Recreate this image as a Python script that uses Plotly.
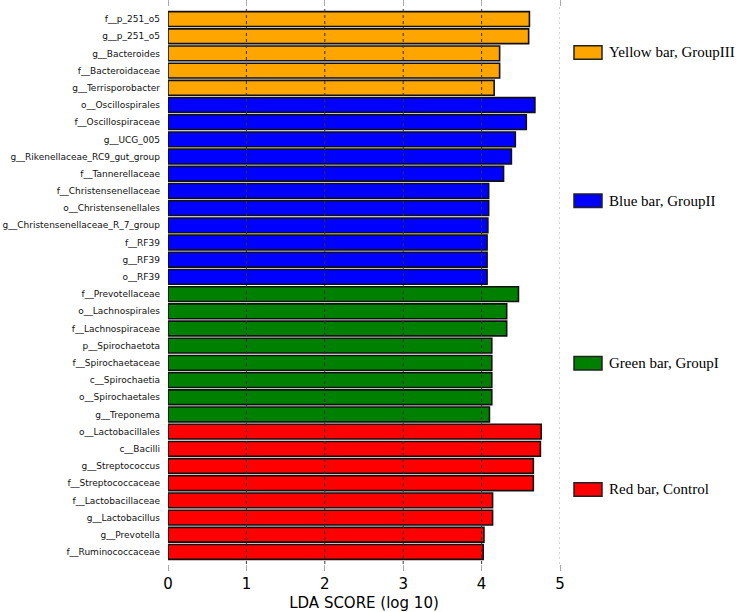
import plotly.graph_objects as go

# ---- data (top to bottom as shown) ----
groupIII_labels = ["f__p_251_o5", "g__p_251_o5", "g__Bacteroides", "f__Bacteroidaceae", "g__Terrisporobacter"]
groupIII_values = [4.61, 4.60, 4.23, 4.23, 4.16]

groupII_labels = ["o__Oscillospirales", "f__Oscillospiraceae", "g__UCG_005", "g__Rikenellaceae_RC9_gut_group",
                  "f__Tannerellaceae", "f__Christensenellaceae", "o__Christensenellales",
                  "g__Christensenellaceae_R_7_group", "f__RF39", "g__RF39", "o__RF39"]
groupII_values = [4.68, 4.57, 4.43, 4.38, 4.28, 4.09, 4.09, 4.08, 4.07, 4.07, 4.07]

groupI_labels = ["f__Prevotellaceae", "o__Lachnospirales", "f__Lachnospiraceae", "p__Spirochaetota",
                 "f__Spirochaetaceae", "c__Spirochaetia", "o__Spirochaetales", "g__Treponema"]
groupI_values = [4.47, 4.32, 4.32, 4.13, 4.13, 4.13, 4.13, 4.10]

control_labels = ["o__Lactobacillales", "c__Bacilli", "g__Streptococcus", "f__Streptococcaceae",
                  "f__Lactobacillaceae", "g__Lactobacillus", "g__Prevotella", "f__Ruminococcaceae"]
control_values = [4.76, 4.75, 4.66, 4.66, 4.14, 4.14, 4.03, 4.02]

legend_texts = ["Yellow bar, GroupIII", "Blue bar, GroupII", "Green bar, GroupI", "Red bar, Control"]
x_ticks = [0, 1, 2, 3, 4, 5]

groups = [
    (groupIII_labels, groupIII_values, "#FFA500"),
    (groupII_labels, groupII_values, "#0000FF"),
    (groupI_labels, groupI_values, "#008000"),
    (control_labels, control_values, "#FF0000"),
]

all_labels = groupIII_labels + groupII_labels + groupI_labels + control_labels

W, H = 740, 612
ML, MR, MT, MB = 168, 180, 7, 48
PW, PH = W - ML - MR, H - MT - MB

fig = go.Figure()
for labels, values, color in groups:
    fig.add_trace(go.Bar(
        y=labels, x=values, orientation="h",
        marker=dict(color=color, line=dict(color="#111111", width=1.6)),
        width=0.86, showlegend=False,
    ))

shapes = []
for t in [1, 2, 3, 4]:
    shapes.append(dict(type="line", xref="x", yref="paper", x0=t, x1=t, y0=0, y1=1,
                       line=dict(color="#333333", width=1, dash="3px,3px"), layer="above"))
shapes.append(dict(type="line", xref="x", yref="paper", x0=5, x1=5, y0=0, y1=1,
                   line=dict(color="#aaaaaa", width=1, dash="2px,3px"), layer="above"))

def px_x(p):
    return (p - ML) / PW

def px_y(p):
    return (H - MB - p) / PH

legend_centers = [52.5, 200.7, 363.3, 489.5]
annotations = []
for (labels, values, color), txt, cy in zip(groups, legend_texts, legend_centers):
    shapes.append(dict(type="rect", xref="paper", yref="paper",
                       x0=px_x(574), x1=px_x(602), y0=px_y(cy + 6.7), y1=px_y(cy - 6.7),
                       fillcolor=color, line=dict(color="#222222", width=1.5)))
    annotations.append(dict(xref="paper", yref="paper", x=px_x(607), y=px_y(cy),
                            xanchor="left", yanchor="middle", text=txt, showarrow=False,
                            font=dict(family="Liberation Serif", size=15, color="#000000")))

fig.update_layout(
    width=W, height=H,
    margin=dict(l=ML, r=MR, t=MT, b=MB),
    paper_bgcolor="white", plot_bgcolor="white",
    shapes=shapes, annotations=annotations,
    xaxis=dict(range=[0, 5], tickvals=x_ticks, showgrid=False, zeroline=False, showline=False,
               automargin=False,
               ticks="outside", ticklen=6, tickcolor="#aaaaaa", tickwidth=1, mirror="ticks",
               tickfont=dict(family="DejaVu Sans", size=15, color="#000000"),
               title=dict(text="LDA SCORE (log 10)", standoff=10,
                          font=dict(family="DejaVu Sans", size=15, color="#000000"))),
    yaxis=dict(type="category", categoryorder="array", categoryarray=all_labels[::-1],
               range=[-0.7, len(all_labels) - 1 + 0.7], showgrid=False, zeroline=False, showline=False,
               automargin=False,
               ticks="", ticklabelstandoff=7,
               tickfont=dict(family="DejaVu Sans", size=9, color="#111111")),
)

fig.write_html("out.html", config={"displayModeBar": False},
               post_script="document.body.style.margin='0';")
